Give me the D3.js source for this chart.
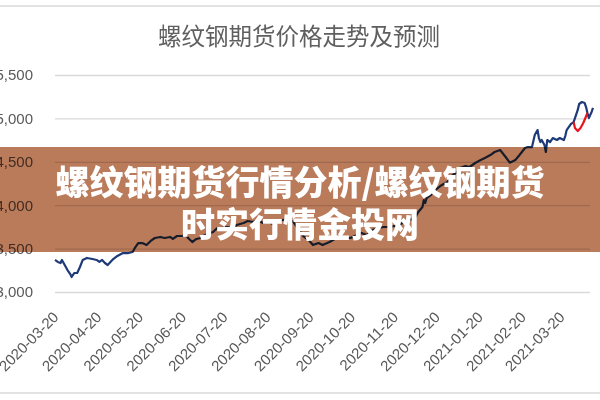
<!DOCTYPE html>
<html>
<head>
<meta charset="utf-8">
<script src="https://cdn.jsdelivr.net/npm/d3@7"></script>
<style>
  html, body { margin: 0; padding: 0; background: #fff; }
  svg { display: block; }
</style>
</head>
<body>
<div id="chart"></div>
<script>
// ---- data ----
const title = "螺纹钢期货价格走势及预测";
const bannerLines = ["螺纹钢期货行情分析/螺纹钢期货", "时实行情金投网"];

const dates = [
  "2020-03-20","2020-03-22","2020-03-24","2020-03-25","2020-03-27","2020-03-29","2020-03-31","2020-04-01",
  "2020-04-03","2020-04-05","2020-04-07","2020-04-09","2020-04-12","2020-04-16","2020-04-19","2020-04-21",
  "2020-04-23","2020-04-25","2020-04-27","2020-04-29","2020-05-01","2020-05-04","2020-05-08","2020-05-12",
  "2020-05-15","2020-05-17","2020-05-19","2020-05-22","2020-05-25","2020-05-28","2020-05-31","2020-06-04",
  "2020-06-07","2020-06-11","2020-06-13","2020-06-16","2020-06-20","2020-06-22","2020-06-24","2020-06-27",
  "2020-06-30","2020-07-03","2020-07-05","2020-07-08","2020-07-12","2020-07-15","2020-07-18","2020-07-22",
  "2020-07-26","2020-07-29","2020-08-03","2020-08-06","2020-08-10","2020-08-13","2020-08-17","2020-08-21",
  "2020-08-24","2020-08-28","2020-08-31","2020-09-04","2020-09-08","2020-09-11","2020-09-15","2020-09-19",
  "2020-09-22","2020-09-26","2020-09-29","2020-10-04","2020-10-09","2020-10-14","2020-10-19","2020-10-24",
  "2020-10-27","2020-10-31","2020-11-04","2020-11-08","2020-11-12","2020-11-17","2020-11-22","2020-11-26",
  "2020-12-01","2020-12-05","2020-12-07","2020-12-10","2020-12-11","2020-12-12","2020-12-13","2020-12-16",
  "2020-12-18","2020-12-21","2020-12-24","2020-12-28","2020-12-30","2021-01-01","2021-01-04","2021-01-06",
  "2021-01-10","2021-01-13","2021-01-17","2021-01-21","2021-01-24","2021-01-28","2021-01-31","2021-02-04",
  "2021-02-08","2021-02-11","2021-02-15","2021-02-18","2021-02-22","2021-02-24","2021-02-27","2021-03-01",
  "2021-03-03","2021-03-04","2021-03-05","2021-03-06","2021-03-08","2021-03-09","2021-03-10","2021-03-12",
  "2021-03-14","2021-03-17","2021-03-19","2021-03-22","2021-03-23","2021-03-24","2021-03-27","2021-03-29",
  "2021-03-30","2021-04-01","2021-04-02","2021-04-04","2021-04-06","2021-04-07","2021-04-08","2021-04-09",
  "2021-04-11","2021-04-12"
];
const prices = [
  3369,3346,3334,3369,3311,3253,3207,3173,
  3219,3219,3288,3369,3392,3380,3369,3346,
  3369,3334,3311,3346,3380,3415,3449,3449,
  3461,3518,3564,3564,3541,3588,3622,3634,
  3622,3634,3611,3645,3645,3668,3622,3576,
  3611,3622,3645,3668,3691,3737,3737,3749,
  3737,3772,3795,3818,3806,3829,3795,3806,
  3783,3806,3829,3841,3806,3737,3645,3599,
  3541,3564,3541,3576,3622,3634,3622,3657,
  3680,3657,3714,3737,3749,3749,3772,3795,
  3829,3864,3922,3979,4060,4025,4083,4117,
  4152,4198,4233,4267,4313,4348,4382,4428,
  4452,4440,4486,4521,4544,4578,4613,4636,
  4555,4490,4521,4578,4659,4670,4670,4809,
  4866,4774,4728,4751,4693,4613,4751,4728,
  4774,4751,4774,4751,4797,4866,4935,4958,
  5004,5097,5166,5189,5177,5131,5062,5004,
  5074,5120
];
// forecast segment (red)
const predDates = ["2021-03-29","2021-03-30","2021-04-01","2021-04-03","2021-04-05","2021-04-08"];
const predPrices = [4958,4890,4855,4890,4947,5062];

const yTicks = [3000,3500,4000,4500,5000,5500];
const xTickLabels = ["2020-03-20","2020-04-20","2020-05-20","2020-06-20","2020-07-20","2020-08-20",
  "2020-09-20","2020-10-20","2020-11-20","2020-12-20","2021-01-20","2021-02-20","2021-03-20"];

// ---- chart ----
const W = 600, H = 400;
const parse = d3.timeParse("%Y-%m-%d");
const svg = d3.select("#chart").append("svg").attr("width", W).attr("height", H);

svg.append("rect").attr("width", W).attr("height", H).attr("fill", "#fff");

// frame lines
svg.append("line").attr("x1",0).attr("x2",W).attr("y1",6).attr("y2",6)
  .attr("stroke","#e2e2e2").attr("stroke-width",2);
svg.append("line").attr("x1",0).attr("x2",W).attr("y1",393).attr("y2",393)
  .attr("stroke","#e2e2e2").attr("stroke-width",2);

const x = d3.scaleTime().domain([parse("2020-03-20"), parse("2021-04-12")]).range([55, 593]);
const y = d3.scaleLinear().domain([3000, 5500]).range([292, 75]);

// title
svg.append("text").attr("x", 299).attr("y", 45).attr("text-anchor","middle")
  .attr("font-family","'Noto Sans CJK SC', sans-serif").attr("font-size", 23.5)
  .attr("fill","#5f5f5f").text(title);

// y axis + grid
const yAxis = svg.append("g").attr("transform","translate(55,0)")
  .call(d3.axisLeft(y).tickValues(yTicks).tickFormat(d3.format(",")).tickSize(-535).tickPadding(22));
yAxis.select(".domain").remove();
yAxis.selectAll(".tick line").attr("stroke","#d9d9d9").attr("stroke-width",1.3);
yAxis.selectAll(".tick text").attr("fill","#595959").attr("font-size",15)
  .attr("font-family","'Liberation Sans', Arial, sans-serif");

// x axis
const xAxis = svg.append("g").attr("transform","translate(0,292)")
  .call(d3.axisBottom(x).tickValues(xTickLabels.map(parse)).tickFormat(d3.timeFormat("%Y-%m-%d")).tickSize(0));
xAxis.select(".domain").remove();
xAxis.selectAll(".tick text")
  .attr("x",0).attr("y",0).attr("dy",0)
  .attr("transform","translate(4,26) rotate(-45)")
  .style("text-anchor","end")
  .attr("fill","#595959").attr("font-size",15)
  .attr("font-family","'Liberation Sans', Arial, sans-serif");

// lines
const line = d3.line().x(d => x(d[0])).y(d => y(d[1])).curve(d3.curveLinear);
const mainData = dates.map((d,i) => [parse(d), prices[i]]);
const predData = predDates.map((d,i) => [parse(d), predPrices[i]]);

svg.append("path").datum(mainData).attr("d", line)
  .attr("fill","none").attr("stroke","#1f3a78").attr("stroke-width",2.2)
  .attr("stroke-linejoin","round");
svg.append("path").datum(predData).attr("d", line)
  .attr("fill","none").attr("stroke","#e8141b").attr("stroke-width",2.2)
  .attr("stroke-linejoin","round");

// banner overlay
svg.append("rect").attr("x",0).attr("y",147).attr("width",W).attr("height",105)
  .attr("fill","#ba7b5b").style("mix-blend-mode","multiply");

svg.selectAll(".banner").data(bannerLines).enter().append("text")
  .attr("x", 300).attr("y", (d,i) => 195 + i*42)
  .attr("text-anchor","middle")
  .attr("font-family","'Noto Sans CJK SC', sans-serif").attr("font-weight",900)
  .attr("font-size",34).attr("fill","#fff").text(d => d);
</script>
</body>
</html>
